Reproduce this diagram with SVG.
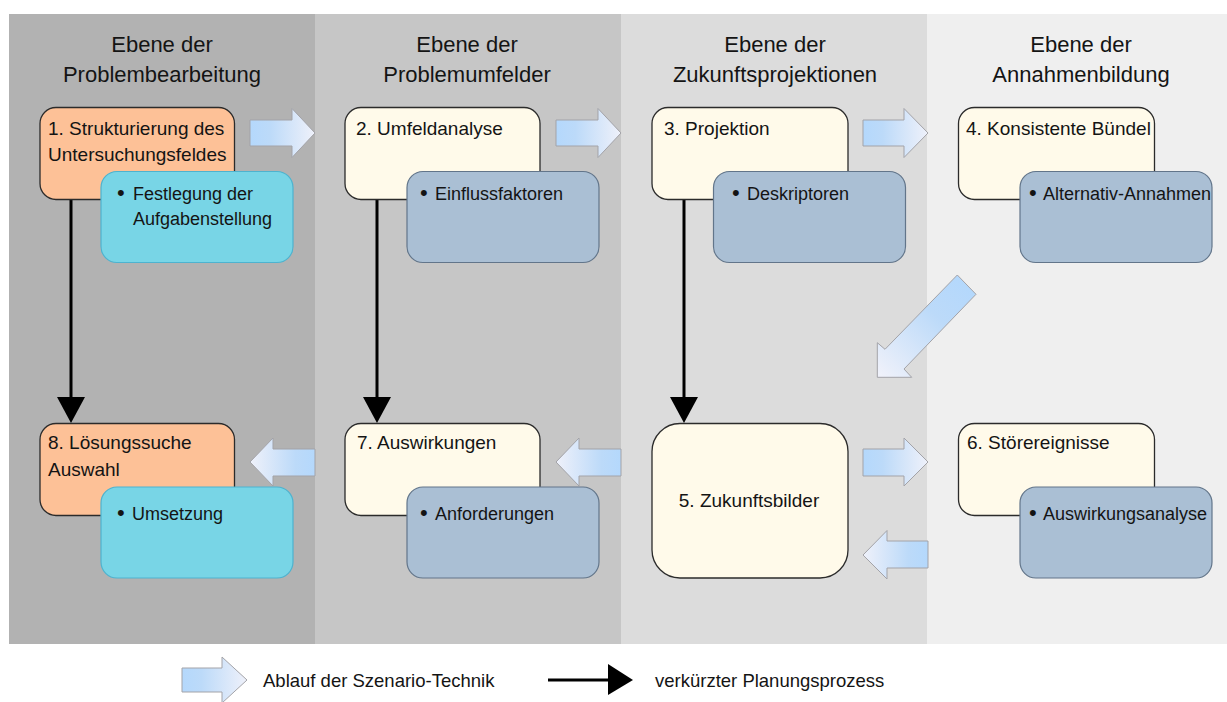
<svg xmlns="http://www.w3.org/2000/svg" width="1227" height="702" viewBox="0 0 1227 702">
<style>
text{font-family:"Liberation Sans",Arial,sans-serif;fill:#141414}
.title{font-size:22px;text-anchor:middle}
.lbl{font-size:18px}
.mlbl{font-size:19px}
.leg{font-size:18.5px}
.bul{font-size:22px}
.main{stroke:#2b2b2b;stroke-width:1.3}
.orange{fill:#fdc197}
.cream{fill:#fffaea}
.cyan{fill:#78d5e6;stroke:#4db3cf;stroke-width:1.2}
.steel{fill:#aabfd4;stroke:#62758a;stroke-width:1.2}
.line{stroke:#000;stroke-width:3;fill:none}
.head{fill:#000}
</style>
<defs>
<linearGradient id="gR" x1="0" y1="0" x2="1" y2="0">
<stop offset="0" stop-color="#b4d8fc"/>
<stop offset="0.3" stop-color="#bcdaf9"/>
<stop offset="1" stop-color="#eff1fa"/>
</linearGradient>
<linearGradient id="gL" x1="1" y1="0" x2="0" y2="0">
<stop offset="0" stop-color="#b4d8fc"/>
<stop offset="0.3" stop-color="#bcdaf9"/>
<stop offset="1" stop-color="#eff1fa"/>
</linearGradient>
<linearGradient id="gD" gradientUnits="userSpaceOnUse" x1="967" y1="285" x2="880" y2="375">
<stop offset="0" stop-color="#b4d8fc"/>
<stop offset="0.35" stop-color="#bcdaf9"/>
<stop offset="1" stop-color="#eff1fa"/>
</linearGradient>
</defs>

<g id="background">
<rect x="9" y="14" width="306" height="630" fill="#b2b2b2"/>
<rect x="315" y="14" width="306" height="630" fill="#c6c6c6"/>
<rect x="621" y="14" width="306" height="630" fill="#dcdcdc"/>
<rect x="927" y="14" width="300" height="630" fill="#efefef"/>
</g>

<g id="titles">
<text class="title" x="162" y="52">Ebene der</text>
<text class="title" x="162" y="82">Problembearbeitung</text>
<text class="title" x="467" y="52">Ebene der</text>
<text class="title" x="467" y="82">Problemumfelder</text>
<text class="title" x="775" y="52">Ebene der</text>
<text class="title" x="775" y="82">Zukunftsprojektionen</text>
<text class="title" x="1081" y="52">Ebene der</text>
<text class="title" x="1081" y="82">Annahmenbildung</text>
</g>

<g id="connectors">
<g stroke="#a3a3a8" stroke-width="1">
<polygon fill="url(#gR)" points="250,120 292,120 292,108.5 315,133 292,157.5 292,146 250,146"/>
<polygon fill="url(#gR)" points="556,120 598,120 598,108.5 621,133 598,157.5 598,146 556,146"/>
<polygon fill="url(#gR)" points="863,120 904,120 904,108.5 928,133 904,157.5 904,146 863,146"/>
<polygon fill="url(#gD)" points="957.3,275 976,294.3 904,369 911.7,377.3 877.3,377.3 877.3,342.7 885,349.3"/>
<polygon fill="url(#gL)" points="315,449 273,449 273,438 250,462 273,486 273,476 315,476"/>
<polygon fill="url(#gL)" points="621,449 579,449 579,438 556,462 579,486 579,476 621,476"/>
<polygon fill="url(#gR)" points="863,449 904,449 904,438 928,462 904,486 904,476 863,476"/>
<polygon fill="url(#gL)" points="928,541 887,541 887,530.5 863,555 887,579 887,568 928,568"/>
</g>
<line class="line" x1="71" y1="199" x2="71" y2="399"/>
<polygon class="head" points="57,397 85,397 71,423"/>
<line class="line" x1="377" y1="199" x2="377" y2="399"/>
<polygon class="head" points="363,397 391,397 377,423"/>
<line class="line" x1="684" y1="199" x2="684" y2="399"/>
<polygon class="head" points="670,397 698,397 684,423"/>
</g>

<g id="node1">
<rect class="main orange" x="40" y="107.5" width="194.5" height="92" rx="16"/>
<text class="mlbl" x="48" y="135">1. Strukturierung des</text>
<text class="mlbl" x="48" y="161">Untersuchungsfeldes</text>
<rect class="cyan" x="101" y="171.5" width="192" height="91" rx="16"/>
<text class="lbl" x="117" y="200"><tspan class="bul">•</tspan><tspan x="133">Festlegung der</tspan></text>
<text class="lbl" x="133" y="225">Aufgabenstellung</text>
</g>

<g id="node2">
<rect class="main cream" x="345" y="107.5" width="195" height="92" rx="16"/>
<text class="mlbl" x="356" y="135">2. Umfeldanalyse</text>
<rect class="steel" x="407" y="171.5" width="192" height="91" rx="16"/>
<text class="lbl" x="420" y="200"><tspan class="bul">•</tspan><tspan x="435">Einflussfaktoren</tspan></text>
</g>

<g id="node3">
<rect class="main cream" x="652" y="107.5" width="196" height="92" rx="16"/>
<text class="mlbl" x="664" y="135">3. Projektion</text>
<rect class="steel" x="713.5" y="171.5" width="192" height="91" rx="16"/>
<text class="lbl" x="732" y="200"><tspan class="bul">•</tspan><tspan x="747">Deskriptoren</tspan></text>
</g>

<g id="node4">
<rect class="main cream" x="958.5" y="107.5" width="196" height="92" rx="16"/>
<text class="mlbl" x="966" y="135">4. Konsistente Bündel</text>
<rect class="steel" x="1020" y="171.5" width="192" height="91" rx="16"/>
<text class="lbl" x="1029" y="200"><tspan class="bul">•</tspan><tspan x="1043">Alternativ-Annahmen</tspan></text>
</g>

<g id="node5">
<rect class="main cream" x="652" y="423.5" width="196" height="154.5" rx="28"/>
<text class="mlbl" x="749" y="507" text-anchor="middle">5. Zukunftsbilder</text>
</g>

<g id="node6">
<rect class="main cream" x="958.5" y="423.5" width="196" height="92" rx="16"/>
<text class="mlbl" x="967" y="449">6. Störereignisse</text>
<rect class="steel" x="1020" y="487" width="192" height="91" rx="16"/>
<text class="lbl" x="1029" y="520"><tspan class="bul">•</tspan><tspan x="1043">Auswirkungsanalyse</tspan></text>
</g>

<g id="node7">
<rect class="main cream" x="345" y="423.5" width="195" height="92" rx="16"/>
<text class="mlbl" x="357" y="449">7. Auswirkungen</text>
<rect class="steel" x="407" y="487" width="192" height="91" rx="16"/>
<text class="lbl" x="420" y="520"><tspan class="bul">•</tspan><tspan x="435">Anforderungen</tspan></text>
</g>

<g id="node8">
<rect class="main orange" x="40" y="423.5" width="194.5" height="92" rx="16"/>
<text class="mlbl" x="48" y="449">8. Lösungssuche</text>
<text class="mlbl" x="48" y="476">Auswahl</text>
<rect class="cyan" x="101" y="487" width="192" height="91" rx="16"/>
<text class="lbl" x="117" y="520"><tspan class="bul">•</tspan><tspan x="132">Umsetzung</tspan></text>
</g>

<g id="legend">
<polygon fill="url(#gR)" stroke="#a3a3a8" stroke-width="1" points="182,668 222,668 222,657 247,680 222,703 222,692 182,692"/>
<text class="leg" x="263" y="687">Ablauf der Szenario-Technik</text>
<line class="line" x1="548" y1="680" x2="610" y2="680"/>
<polygon class="head" points="608,664 608,695 633,680"/>
<text class="leg" x="655" y="687">verkürzter Planungsprozess</text>
</g>
</svg>
